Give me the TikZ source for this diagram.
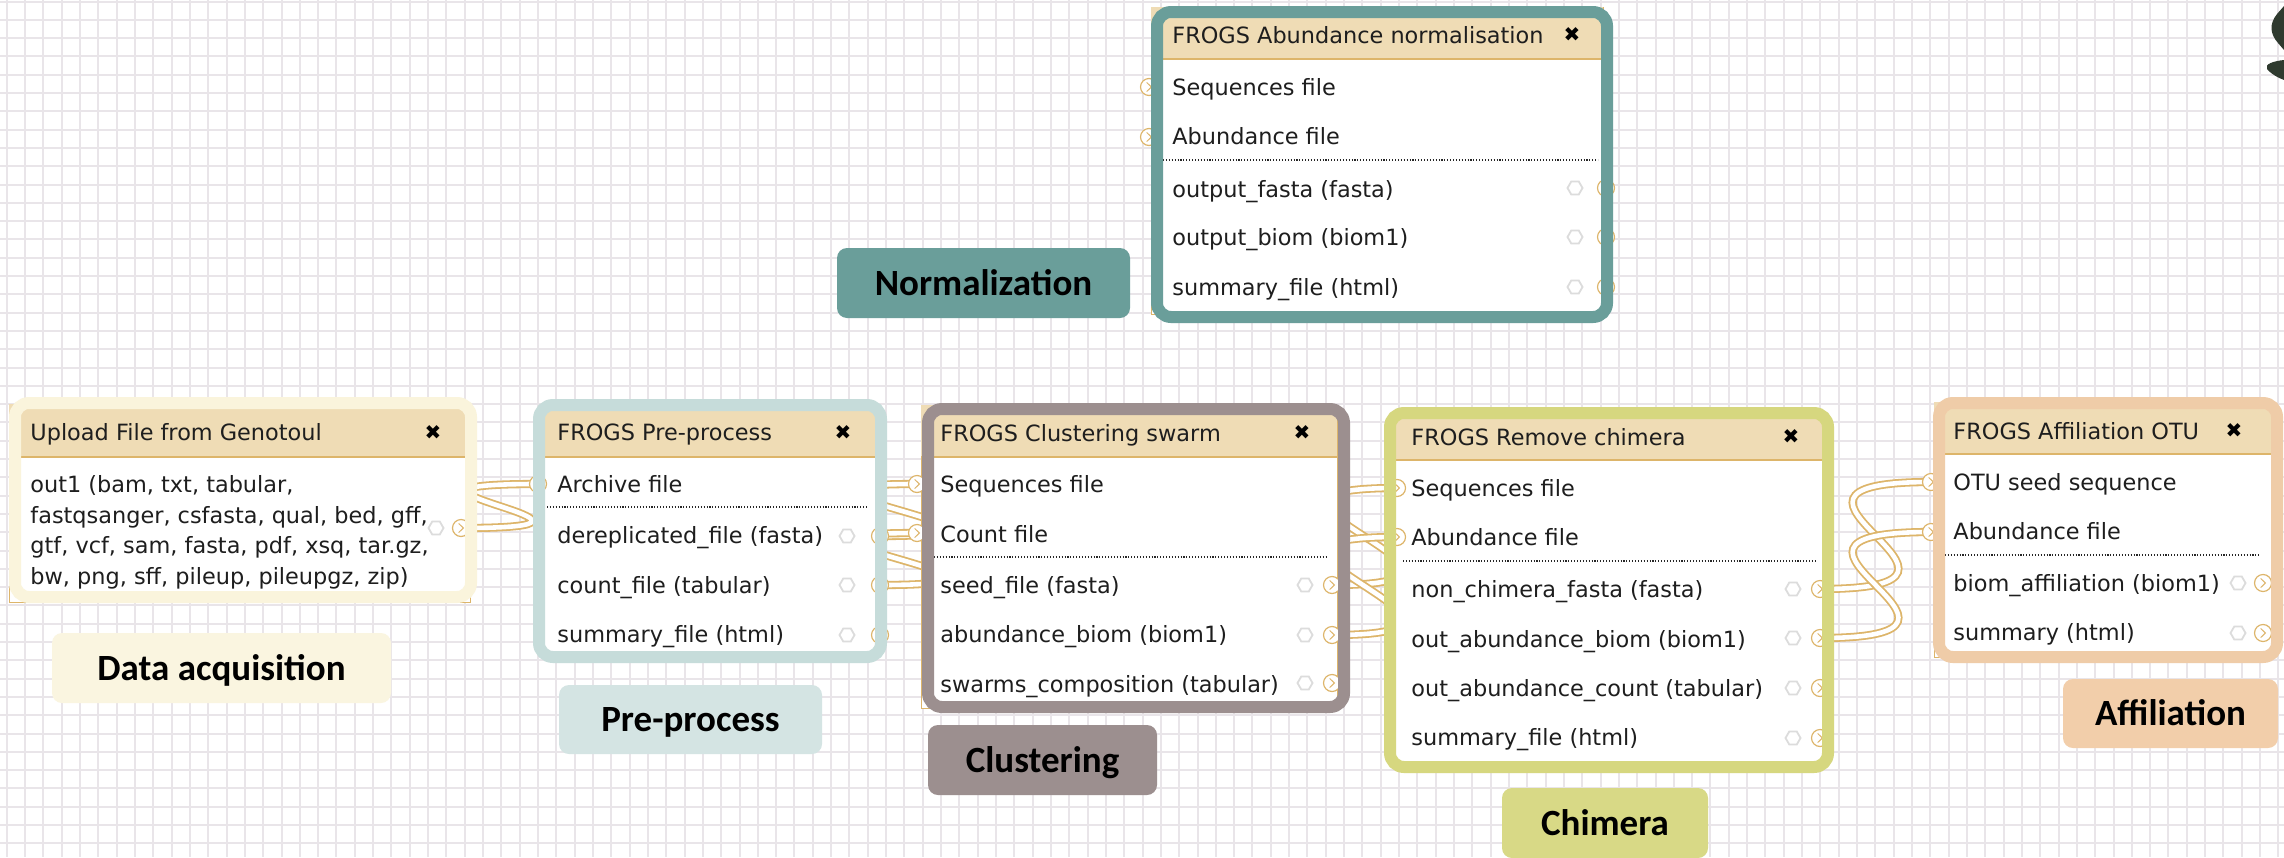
\documentclass[tikz,border=0pt]{standalone}
\usepackage{fontspec}
\usetikzlibrary{shapes.geometric}
\newfontfamily\gfont{DejaVu Sans}
\newfontfamily\lfont{Carlito}
\definecolor{gridc}{HTML}{E9E5E9}
\definecolor{tanc}{HTML}{DDB56A}
\definecolor{headc}{HTML}{EFDCB5}
\definecolor{hexc}{HTML}{DCDCDC}
\definecolor{upc}{HTML}{FAF4DC}
\definecolor{uplab}{HTML}{FAF5E0}
\definecolor{ppc}{HTML}{C6DCDA}
\definecolor{pplab}{HTML}{D4E4E3}
\definecolor{clc}{HTML}{9C8F8F}
\definecolor{chc}{HTML}{D6D77F}
\definecolor{chlab}{HTML}{D8D986}
\definecolor{afc}{HTML}{EFCCA8}
\definecolor{aflab}{HTML}{F2CEAA}
\definecolor{noc}{HTML}{6A9E9A}
\definecolor{leafc}{HTML}{2F3A2F}
\definecolor{txtc}{HTML}{1E1E1E}
\pgfdeclarelayer{gridlayer}
\pgfdeclarelayer{connlayer}
\pgfdeclarelayer{framelayer}
\pgfsetlayers{gridlayer,connlayer,main,framelayer}
\tikzset{
  gtext/.style={anchor=base west, inner sep=0pt, font=\gfont\fontsize{11.2}{13}\selectfont, text=txtc},
  closex/.style={inner sep=0pt, font=\gfont\fontsize{10}{12}\selectfont, text=black},
  hexi/.style={regular polygon, regular polygon sides=6, minimum size=7.5pt, inner sep=0pt, draw=hexc, line width=0.9pt},
  term/.style={circle, minimum size=8.5pt, inner sep=0pt, draw=tanc, fill=white, line width=0.6pt,
    path picture={\draw[tanc, line width=0.5pt] ([xshift=-1.2pt,yshift=2.3pt]path picture bounding box.center) -- ++(2.4pt,-2.3pt) -- ++(-2.4pt,-2.3pt);}},
  noodle/.style={draw=tanc, line width=0.9pt, double=white, double distance=2.3pt},
  gbody/.style={fill=white, draw=tanc, line width=0.5pt},
  ghead/.style={fill=headc},
  hline/.style={draw=tanc, line width=0.6pt},
  sepline/.style={draw=black!85, line width=0.6pt, dash pattern=on 0.55pt off 0.9pt},
  hlframe/.style={line width=6pt, rounded corners=7pt},
  lab/.style={rounded corners=5pt, inner sep=0pt, text depth=0pt, text height=12pt, text=black, font=\lfont\bfseries\fontsize{18.5}{22}\selectfont},
  gridline/.style={draw=gridc, line width=1pt},
}
\begin{document}
\begin{tikzpicture}[x=0.5pt,y=-0.5pt]
\useasboundingbox (0,0) rectangle (2284,857);
\clip (0,0) rectangle (2284,857);
\begin{pgfonlayer}{gridlayer}
\fill[white] (0,0) rectangle (2284,857);
\foreach \k in {0,...,124} \draw[gridline] ({6.7+\k*18.32},0) -- ({6.7+\k*18.32},857);
\foreach \k in {0,...,46} \draw[gridline] (0,{1.5+\k*18.3}) -- (2284,{1.5+\k*18.3});
\end{pgfonlayer}

% ---------- Upload File from Genotoul ----------
\draw[gbody] (9,404) rectangle (470,602);
\fill[ghead] (9,404) rectangle (470,457);
\draw[hline] (9,457) -- (470,457);
\node[gtext] (up-title) at (30,440) {Upload File from Genotoul};
\node[closex] (up-x) at (433,433) {✖};
\node[gtext] (up-l1) at (30,492) {out1 (bam, txt, tabular,};
\node[gtext] (up-l2) at (30,523) {fastqsanger, csfasta, qual, bed, gff,};
\node[gtext] (up-l3) at (30,553) {gtf, vcf, sam, fasta, pdf, xsq, tar.gz,};
\node[gtext] (up-l4) at (30,584) {bw, png, sff, pileup, pileupgz, zip)};
\node[hexi] (up-hex) at (436,528) {};
\node[term] (up-out) at (461,528) {};

% ---------- FROGS Pre-process ----------
\draw[gbody] (540,406) rectangle (880,656);
\fill[ghead] (540,406) rectangle (880,457);
\draw[hline] (540,457) -- (880,457);
\node[gtext] (pp-title) at (557,440) {FROGS Pre-process};
\node[closex] (pp-x) at (843,433) {✖};
\node[gtext] (pp-r1) at (557,492) {Archive file};
\draw[sepline] (547,507) -- (868,507);
\node[gtext] (pp-r2) at (557,543) {dereplicated\_file (fasta)};
\node[gtext] (pp-r3) at (557,593) {count\_file (tabular)};
\node[gtext] (pp-r4) at (557,642) {summary\_file (html)};
\node[hexi] (pp-h1) at (847,536) {};
\node[hexi] (pp-h2) at (847,585) {};
\node[hexi] (pp-h3) at (847,635) {};
\node[term] (pp-in) at (538,484) {};
\node[term] (pp-o1) at (880,536) {};
\node[term] (pp-o2) at (880,585) {};
\node[term] (pp-o3) at (880,635) {};

% ---------- FROGS Clustering swarm ----------
\draw[gbody] (921,405) rectangle (1337,708);
\fill[ghead] (921,405) rectangle (1337,457);
\draw[hline] (921,457) -- (1337,457);
\node[gtext] (cl-title) at (940,441) {FROGS Clustering swarm};
\node[closex] (cl-x) at (1302,433) {✖};
\node[gtext] (cl-r1) at (940,492) {Sequences file};
\node[gtext] (cl-r2) at (940,542) {Count file};
\draw[sepline] (934,557) -- (1326,557);
\node[gtext] (cl-r3) at (940,593) {seed\_file (fasta)};
\node[gtext] (cl-r4) at (940,642) {abundance\_biom (biom1)};
\node[gtext] (cl-r5) at (940,692) {swarms\_composition (tabular)};
\node[hexi] (cl-h1) at (1305,585) {};
\node[hexi] (cl-h2) at (1305,635) {};
\node[hexi] (cl-h3) at (1305,683) {};
\node[term] (cl-i1) at (917,484) {};
\node[term] (cl-i2) at (917,533) {};
\node[term] (cl-o1) at (1332,585) {};
\node[term] (cl-o2) at (1332,635) {};
\node[term] (cl-o3) at (1332,683) {};

% ---------- FROGS Remove chimera ----------
\draw[gbody] (1393,414) rectangle (1826,766);
\fill[ghead] (1393,414) rectangle (1826,460);
\draw[hline] (1393,460) -- (1826,460);
\node[gtext] (ch-title) at (1411,445) {FROGS Remove chimera};
\node[closex] (ch-x) at (1791,437) {✖};
\node[gtext] (ch-r1) at (1411,496) {Sequences file};
\node[gtext] (ch-r2) at (1411,545) {Abundance file};
\draw[sepline] (1403,561) -- (1815,561);
\node[gtext] (ch-r3) at (1411,597) {non\_chimera\_fasta (fasta)};
\node[gtext] (ch-r4) at (1411,647) {out\_abundance\_biom (biom1)};
\node[gtext] (ch-r5) at (1411,696) {out\_abundance\_count (tabular)};
\node[gtext] (ch-r6) at (1411,745) {summary\_file (html)};
\node[hexi] (ch-h1) at (1793,589) {};
\node[hexi] (ch-h2) at (1793,638) {};
\node[hexi] (ch-h3) at (1793,688) {};
\node[hexi] (ch-h4) at (1793,738) {};
\node[term] (ch-i1) at (1397,488) {};
\node[term] (ch-i2) at (1397,537) {};
\node[term] (ch-o1) at (1820,589) {};
\node[term] (ch-o2) at (1820,638) {};
\node[term] (ch-o3) at (1820,688) {};
\node[term] (ch-o4) at (1820,738) {};

% ---------- FROGS Affiliation OTU ----------
\draw[gbody] (1934,402) rectangle (2272,657);
\fill[ghead] (1934,402) rectangle (2272,454);
\draw[hline] (1934,454) -- (2272,454);
\node[gtext] (af-title) at (1953,439) {FROGS Affiliation OTU};
\node[closex] (af-x) at (2234,431) {✖};
\node[gtext] (af-r1) at (1953,490) {OTU seed sequence};
\node[gtext] (af-r2) at (1953,539) {Abundance file};
\draw[sepline] (1945,555) -- (2259,555);
\node[gtext] (af-r3) at (1953,591) {biom\_affiliation (biom1)};
\node[gtext] (af-r4) at (1953,640) {summary (html)};
\node[hexi] (af-h1) at (2238,583) {};
\node[hexi] (af-h2) at (2238,633) {};
\node[term] (af-i1) at (1931,482) {};
\node[term] (af-i2) at (1931,532) {};
\node[term] (af-o1) at (2263,583) {};
\node[term] (af-o2) at (2263,633) {};

% ---------- FROGS Abundance normalisation ----------
\draw[gbody] (1151,7) rectangle (1603,314);
\fill[ghead] (1151,7) rectangle (1603,59);
\draw[hline] (1151,59) -- (1603,59);
\node[gtext] (no-title) at (1172,43) {FROGS Abundance normalisation};
\node[closex] (no-x) at (1572,35) {✖};
\node[gtext] (no-r1) at (1172,95) {Sequences file};
\node[gtext] (no-r2) at (1172,144) {Abundance file};
\draw[sepline] (1163,160) -- (1598,160);
\node[gtext] (no-r3) at (1172,197) {output\_fasta (fasta)};
\node[gtext] (no-r4) at (1172,245) {output\_biom (biom1)};
\node[gtext] (no-r5) at (1172,295) {summary\_file (html)};
\node[hexi] (no-h1) at (1575,188) {};
\node[hexi] (no-h2) at (1575,237) {};
\node[hexi] (no-h3) at (1575,287) {};
\node[term] (no-i1) at (1149,87) {};
\node[term] (no-i2) at (1149,137) {};
\node[term] (no-o1) at (1606,188) {};
\node[term] (no-o2) at (1606,237) {};
\node[term] (no-o3) at (1606,287) {};

% ---------- connectors ----------
\begin{pgfonlayer}{connlayer}
\draw[noodle] (up-out.center) .. controls +(210,0) and +(-210,0) .. (pp-in.center);
\draw[noodle] (pp-o1.center) .. controls +(215,0) and +(-215,0) .. (cl-i1.center);
\draw[noodle] (pp-o2.center) .. controls +(215,0) and +(-215,0) .. (cl-i2.center);
\draw[noodle] (cl-o1.center) .. controls +(215,0) and +(-215,0) .. (ch-i1.center);
\draw[noodle] (cl-o2.center) .. controls +(215,0) and +(-215,0) .. (ch-i2.center);
\draw[noodle] (ch-o1.center) .. controls +(215,0) and +(-215,0) .. (af-i1.center);
\draw[noodle] (ch-o2.center) .. controls +(215,0) and +(-215,0) .. (af-i2.center);
\end{pgfonlayer}

% ---------- highlight frames and labels ----------
\begin{pgfonlayer}{framelayer}
\draw[hlframe, draw=upc] (15,403) rectangle (471,597);
\draw[hlframe, draw=ppc] (539,405) rectangle (881,657);
\draw[hlframe, draw=clc] (928,409) rectangle (1344,707);
\draw[hlframe, draw=chc] (1390,413) rectangle (1828,767);
\draw[hlframe, draw=afc] (1939,403) rectangle (2277,657);
\draw[hlframe, draw=noc] (1157,12) rectangle (1607,317);
\node[lab, fill=uplab, minimum width=169.5pt, minimum height=35pt] (lab-up) at (221.5,668) {Data acquisition};
\node[lab, fill=pplab, minimum width=131.5pt, minimum height=34.5pt] (lab-pp) at (690.5,719.5) {Pre-process};
\node[lab, fill=clc, minimum width=114.5pt, minimum height=35pt] (lab-cl) at (1042.5,760) {Clustering};
\node[lab, fill=chlab, minimum width=103pt, minimum height=35pt] (lab-ch) at (1605,823) {Chimera};
\node[lab, fill=aflab, minimum width=107.5pt, minimum height=34.5pt] (lab-af) at (2170.5,713.5) {Affiliation};
\node[lab, fill=noc, minimum width=146.5pt, minimum height=35pt] (lab-no) at (983.5,283) {Normalization};
\fill[leafc] (2284,6) -- (2277,14) .. controls (2269,24) and (2270,34) .. (2278,43) -- (2284,50) -- cycle;
\fill[leafc] (2284,60) .. controls (2274,61) and (2264,64) .. (2267,69) .. controls (2272,75) and (2279,78) .. (2284,80) -- cycle;
\end{pgfonlayer}
\end{tikzpicture}
\end{document}
